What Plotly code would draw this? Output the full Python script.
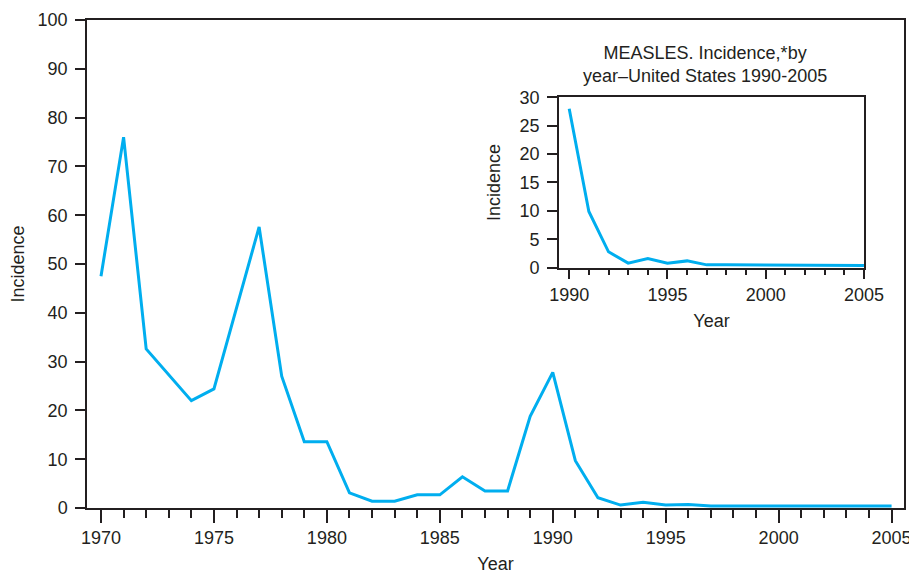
import plotly.graph_objects as go

# ── Data ──────────────────────────────────────────────────────────────────────
years = list(range(1970, 2006))
incidence = [
    47.5, 76.0, 32.6, 27.3, 22.0, 24.4, 41.0, 57.6, 27.0, 13.6,
    13.6, 3.1, 1.4, 1.4, 2.7, 2.7, 6.4, 3.5, 3.5, 18.8,
    27.8, 9.7, 2.1, 0.6, 1.2, 0.6, 0.7, 0.4, 0.4, 0.4,
    0.4, 0.4, 0.4, 0.4, 0.4, 0.4,
]

inset_years = list(range(1990, 2006))
inset_incidence = [
    28.0, 9.9, 2.8, 0.8, 1.6, 0.8, 1.2, 0.5, 0.5, 0.5,
    0.5, 0.5, 0.5, 0.4, 0.4, 0.4,
]

inset_title = "MEASLES. Incidence,*by<br>year\u2013United States 1990-2005"

# ── Style ─────────────────────────────────────────────────────────────────────
_INK = "#231f20"
_BLUE = "#00aeef"
_FONT = dict(family="Liberation Sans, Arial, sans-serif", size=18, color=_INK)

fig = go.Figure()

fig.add_trace(go.Scatter(
    x=years, y=incidence, mode="lines",
    line=dict(color=_BLUE, width=3),
    xaxis="x", yaxis="y",
))
fig.add_trace(go.Scatter(
    x=inset_years, y=inset_incidence, mode="lines",
    line=dict(color=_BLUE, width=3),
    xaxis="x2", yaxis="y2",
))

_axis = dict(
    showgrid=False, zeroline=False, automargin=False,
    showline=True, linecolor=_INK, linewidth=1.5, mirror=True,
    ticks="outside", tickcolor=_INK, tickwidth=1.5,
    tickfont=_FONT,
)

# page body has an 8px margin, so the figure is 8px smaller each way
fig.update_layout(
    width=909, height=566,
    font=_FONT,
    plot_bgcolor="white", paper_bgcolor="white",
    showlegend=False,
    margin=dict(l=79, r=13, t=12, b=66),
    xaxis=dict(
        **_axis, domain=[0, 1], range=[1969.38, 2005.55],
        tick0=1970, dtick=5, ticklen=13,
        minor=dict(dtick=1, tick0=1970, ticks="outside", ticklen=8,
                   tickcolor=_INK, tickwidth=1.5),
        title=dict(text="Year", font=_FONT, standoff=12),
    ),
    yaxis=dict(
        **_axis, domain=[0, 1], range=[0, 100],
        tick0=0, dtick=10, ticklen=10, ticklabelstandoff=4,
        title=dict(text="Incidence", font=_FONT, standoff=12),
    ),
    xaxis2=dict(
        **_axis, domain=[0.5777, 0.951], range=[1989.48, 2005.0],
        anchor="y2",
        tick0=1990, dtick=5, ticklen=10,
        minor=dict(dtick=1, tick0=1990, ticks="outside", ticklen=6,
                   tickcolor=_INK, tickwidth=1.5),
        title=dict(text="Year", font=_FONT, standoff=10),
    ),
    yaxis2=dict(
        **_axis, domain=[0.4924, 0.8416], range=[0, 30],
        anchor="x2",
        tick0=0, dtick=5, ticklen=10, ticklabelstandoff=4,
        title=dict(text="Incidence", font=_FONT, standoff=14),
    ),
    annotations=[
        dict(
            text=inset_title, xref="paper", yref="paper",
            x=0.7564, y=0.908, xanchor="center", yanchor="middle",
            showarrow=False, font=_FONT,
        )
    ],
)

fig.write_html("out.html")
